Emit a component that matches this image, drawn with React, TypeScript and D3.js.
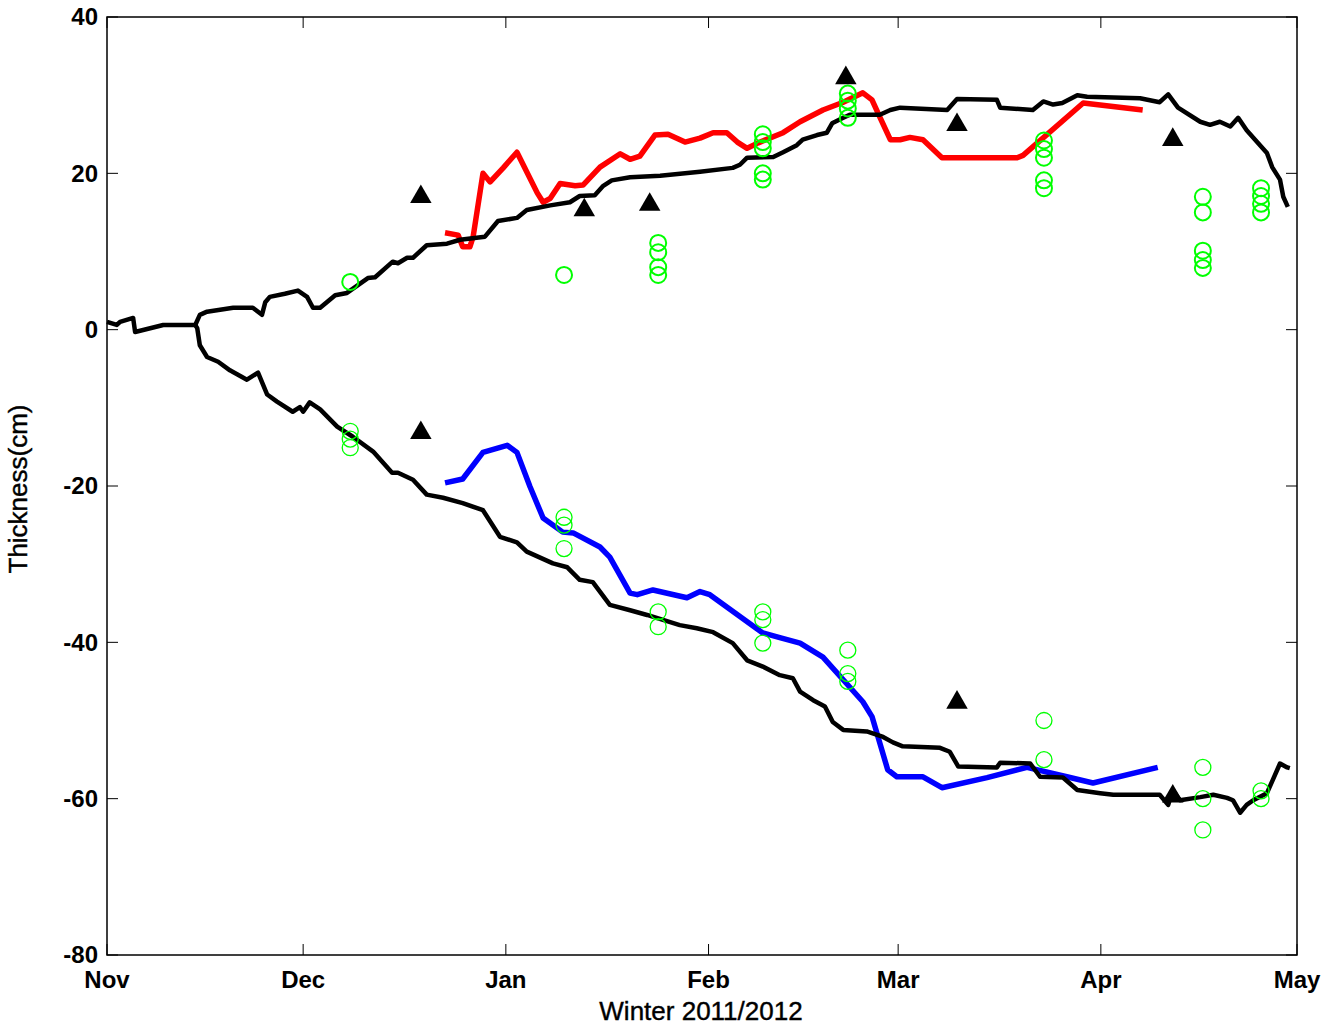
import React, { useEffect, useRef } from 'react';
import * as d3 from 'd3';

// days since 1 Nov 2011, thickness (cm)
const topBlack: [number, number][] = [
  [0, 1.0], [1.5, 0.6], [2, 1.0], [4, 1.5], [4.3, -0.3], [8.6, 0.6], [13.5, 0.6],
  [14.2, 1.9], [15.3, 2.3], [19.3, 2.8], [22.3, 2.8], [23.7, 1.9], [24.2, 3.5],
  [24.9, 4.2], [27.2, 4.6], [29.2, 5.0], [30.6, 4.2], [31.5, 2.8], [32.6, 2.8],
  [34.9, 4.4], [36.7, 4.7], [39.9, 6.6], [41.0, 6.7], [43.7, 8.7], [44.5, 8.5],
  [45.9, 9.2], [46.8, 9.2], [48.9, 10.8], [52.0, 11.0], [54.0, 11.5], [57.8, 11.9],
  [59.8, 13.9], [62.7, 14.3], [64.2, 15.3], [67.8, 15.9], [70.8, 16.3], [72.3, 17.1],
  [74.6, 17.2], [75.9, 18.4], [77.2, 19.1], [80.0, 19.5], [84.6, 19.7], [90.7, 20.2],
  [95.7, 20.7], [96.8, 21.1], [97.9, 22.0], [101.9, 22.1], [103.4, 22.7], [105.5, 23.6],
  [106.4, 24.3], [108.6, 24.9], [110.1, 25.2], [110.9, 26.4], [112.6, 27.1], [113.6, 27.5],
  [118.2, 27.5], [119.8, 28.1], [121.3, 28.4], [128.5, 28.1], [130.0, 29.5], [136.1, 29.4],
  [136.6, 28.4], [141.6, 28.1], [143.2, 29.2], [144.7, 28.8], [146.1, 29.0], [148.4, 30.0],
  [149.9, 29.8], [158.0, 29.6], [161.0, 29.1], [162.3, 30.1], [163.8, 28.4], [167.2, 26.6],
  [168.7, 26.2], [170.2, 26.6], [171.8, 26.0], [173.0, 27.1], [174.3, 25.5], [175.9, 24.0],
  [177.4, 22.6], [178.2, 20.8], [179.4, 19.2], [179.9, 17.0], [180.6, 15.7],
];

const bottomBlack: [number, number][] = [
  [13.5, 0.6], [13.8, 0.2], [14.2, -2.0], [15.3, -3.5], [17.0, -4.1], [18.8, -5.2],
  [21.4, -6.4], [23.1, -5.5], [24.5, -8.3], [26.0, -9.2], [28.4, -10.5], [29.5, -9.9],
  [30.0, -10.5], [31.0, -9.3], [32.6, -10.2], [35.2, -12.4], [37.6, -13.7], [40.7, -15.6],
  [43.6, -18.3], [44.5, -18.3], [46.8, -19.2], [48.9, -21.1], [51.4, -21.5], [54.4, -22.2],
  [57.5, -23.1], [60.1, -26.5], [62.7, -27.2], [64.2, -28.4], [68.2, -29.9], [70.4, -30.4],
  [72.3, -32.0], [74.3, -32.3], [76.9, -35.2], [80.0, -35.9], [82.6, -36.5], [87.6, -37.8],
  [90.2, -38.2], [92.7, -38.7], [95.7, -40.1], [97.9, -42.3], [100.3, -43.1], [102.9, -44.2],
  [104.9, -44.6], [106.0, -46.3], [108.0, -47.4], [109.8, -48.2], [111.0, -50.2], [112.6, -51.2],
  [116.2, -51.4], [118.7, -52.1], [120.2, -52.8], [121.7, -53.3], [127.4, -53.5], [128.9, -54.0],
  [130.2, -55.9], [136.1, -56.0], [136.6, -55.4], [141.2, -55.5], [142.7, -57.2], [146.2, -57.3],
  [148.4, -58.9], [151.9, -59.3], [153.9, -59.5], [161.0, -59.5], [162.3, -60.8], [163.0, -58.9],
  [164.1, -60.2], [167.2, -59.8], [169.2, -59.5], [171.3, -59.9], [172.2, -60.2], [173.3, -61.8],
  [174.3, -60.8], [175.3, -60.2], [177.4, -59.3], [178.3, -57.6], [179.4, -55.5], [180.5, -56.0],
  [180.9, -56.1],
];

const redModel: [number, number][] = [
  [51.7, 12.4], [53.7, 12.1], [54.4, 10.6], [55.5, 10.6], [56.0, 11.9], [57.5, 20.0],
  [58.6, 18.9], [60.6, 20.7], [62.7, 22.7], [65.8, 17.5], [66.7, 16.3], [67.8, 16.8],
  [69.3, 18.7], [71.6, 18.4], [72.8, 18.5], [75.4, 20.8], [78.5, 22.5], [80.0, 21.8],
  [81.5, 22.2], [83.8, 24.9], [85.8, 25.0], [88.4, 24.0], [90.7, 24.5], [92.7, 25.2],
  [94.8, 25.2], [96.4, 24.0], [97.9, 23.2], [99.6, 23.9], [103.4, 25.2], [106.0, 26.6],
  [109.5, 28.1], [112.6, 29.1], [115.6, 30.3], [117.0, 29.4], [118.2, 27.2], [119.8, 24.3],
  [121.3, 24.3], [122.8, 24.6], [124.8, 24.3], [127.7, 22.0], [139.2, 22.0], [140.1, 22.3],
  [149.3, 29.0], [158.4, 28.1],
];

const blueModel: [number, number][] = [
  [51.7, -19.6], [54.4, -19.1], [57.5, -15.7], [61.2, -14.8], [62.7, -15.7], [64.7, -20.1],
  [66.7, -24.1], [69.7, -25.9], [71.3, -26.0], [75.4, -27.8], [76.9, -29.1], [80.0, -33.7],
  [81.1, -33.9], [83.5, -33.3], [88.7, -34.3], [90.7, -33.5], [92.2, -33.9], [100.3, -38.8],
  [102.9, -39.4], [106.0, -40.1], [109.5, -41.9], [115.6, -47.6], [117.0, -49.5], [119.4, -56.3],
  [120.8, -57.2], [124.8, -57.2], [127.7, -58.6], [134.6, -57.3], [140.7, -56.0], [146.8, -57.2],
  [150.8, -58.0], [160.7, -56.0],
];

const triangles: [number, number][] = [
  [48, 17.0], [73, 15.3], [83, 16.0], [113, 32.2], [130, 26.2], [163, 24.3],
  [48, -13.2], [130, -47.7], [163, -59.7],
];

const circlesTop: [number, number][] = [
  [37.2, 6.1], [69.9, 7.0],
  [84.3, 11.1], [84.3, 9.9], [84.3, 8.0], [84.3, 7.0],
  [100.3, 25.0], [100.3, 24.0], [100.3, 23.2], [100.3, 20.0], [100.3, 19.2],
  [113.3, 30.2], [113.3, 29.3], [113.3, 28.3], [113.3, 27.1],
  [143.3, 24.2], [143.3, 23.1], [143.3, 22.0], [143.3, 19.1], [143.3, 18.1],
  [167.6, 17.0], [167.6, 15.0], [167.6, 10.1], [167.6, 8.9], [167.6, 7.9],
  [176.5, 18.1], [176.5, 17.1], [176.5, 16.1], [176.5, 15.0],
];

const circlesBottom: [number, number][] = [
  [37.2, -13.0], [37.2, -14.0], [37.2, -15.1],
  [69.9, -24.0], [69.9, -25.0], [69.9, -28.0],
  [84.3, -36.1], [84.3, -38.0],
  [100.3, -36.1], [100.3, -37.1], [100.3, -40.1],
  [113.3, -41.0], [113.3, -44.0], [113.3, -45.0],
  [143.3, -50.0], [143.3, -55.0],
  [167.6, -56.0], [167.6, -60.0], [167.6, -64.0],
  [176.5, -59.0], [176.5, -60.0],
];

const yTicks = [40, 20, 0, -20, -40, -60, -80];

const start = Date.UTC(2011, 10, 1);
const toDate = (d: number) => new Date(start + d * 86400000);

const App = () => {
  const svgRef = useRef<SVGSVGElement>(null);

  useEffect(() => {
    const svg = d3.select(svgRef.current);
    svg.selectAll('*').remove();

    const width = 1328;
    const height = 1027;
    const margin = { top: 17, right: 31, bottom: 72, left: 107 };
    const iw = width - margin.left - margin.right;
    const ih = height - margin.top - margin.bottom;

    const x = d3.scaleUtc().domain([new Date(Date.UTC(2011, 10, 1)), new Date(Date.UTC(2012, 4, 1))]).range([0, iw]);
    const y = d3.scaleLinear().domain([-80, 40]).range([ih, 0]);

    const g = svg.append('g').attr('transform', `translate(${margin.left},${margin.top})`);
    const font = '"Liberation Sans", Arial, sans-serif';

    const months = d3.utcMonth.range(new Date(Date.UTC(2011, 10, 1)), new Date(Date.UTC(2012, 4, 2)));
    const tl = 11;

    // box + inward ticks
    g.append('rect').attr('width', iw).attr('height', ih).attr('fill', 'none').attr('stroke', '#000').attr('stroke-width', 1.5);
    months.forEach((m) => {
      const px = x(m);
      g.append('line').attr('x1', px).attr('x2', px).attr('y1', ih).attr('y2', ih - tl).attr('stroke', '#000');
      g.append('line').attr('x1', px).attr('x2', px).attr('y1', 0).attr('y2', tl).attr('stroke', '#000');
      g.append('text').attr('x', px).attr('y', ih + 33).attr('text-anchor', 'middle')
        .attr('font-family', font).attr('font-size', 24).attr('font-weight', 'bold')
        .text(d3.utcFormat('%b')(m));
    });
    yTicks.forEach((t) => {
      const py = y(t);
      g.append('line').attr('x1', 0).attr('x2', tl).attr('y1', py).attr('y2', py).attr('stroke', '#000');
      g.append('line').attr('x1', iw).attr('x2', iw - tl).attr('y1', py).attr('y2', py).attr('stroke', '#000');
      g.append('text').attr('x', -9).attr('y', py).attr('dy', '0.35em').attr('text-anchor', 'end')
        .attr('font-family', font).attr('font-size', 24).attr('font-weight', 'bold')
        .text(t);
    });

    g.append('text').attr('x', iw / 2 - 1).attr('y', ih + 65).attr('text-anchor', 'middle')
      .attr('font-family', font).attr('font-size', 26).attr('stroke', '#000').attr('stroke-width', 0.4)
      .text('Winter 2011/2012');
    g.append('text').attr('transform', `translate(${-80},${y(-20) + 3}) rotate(-90)`)
      .attr('text-anchor', 'middle').attr('font-family', font).attr('font-size', 26)
      .attr('stroke', '#000').attr('stroke-width', 0.4)
      .text('Thickness(cm)');

    const line = d3.line<[number, number]>().x((d) => x(toDate(d[0]))).y((d) => y(d[1]));

    const drawLine = (data: [number, number][], color: string, w: number) =>
      g.append('path').datum(data).attr('d', line).attr('fill', 'none')
        .attr('stroke', color).attr('stroke-width', w).attr('stroke-linejoin', 'round');

    drawLine(redModel, '#ff0000', 5.5);
    drawLine(blueModel, '#0000ff', 5.5);
    drawLine(topBlack, '#000', 4.5);
    drawLine(bottomBlack, '#000', 4.5);

    g.selectAll('.ct').data(circlesTop).enter().append('circle')
      .attr('cx', (d) => x(toDate(d[0]))).attr('cy', (d) => y(d[1])).attr('r', 8)
      .attr('fill', 'none').attr('stroke', '#00ff00').attr('stroke-width', 2);
    g.selectAll('.cb').data(circlesBottom).enter().append('circle')
      .attr('cx', (d) => x(toDate(d[0]))).attr('cy', (d) => y(d[1])).attr('r', 8)
      .attr('fill', 'none').attr('stroke', '#00ff00').attr('stroke-width', 1.3);

    const tri = d3.symbol().type(d3.symbolTriangle).size(200);
    g.selectAll('.tri').data(triangles).enter().append('path')
      .attr('d', tri)
      .attr('transform', (d) => `translate(${x(toDate(d[0]))},${y(d[1])})`)
      .attr('fill', '#000');
  }, []);

  return (
    <svg
      ref={svgRef}
      width={1328}
      height={1027}
      style={{ position: 'absolute', left: 0, top: 0, background: '#fff' }}
    />
  );
};

export default App;
